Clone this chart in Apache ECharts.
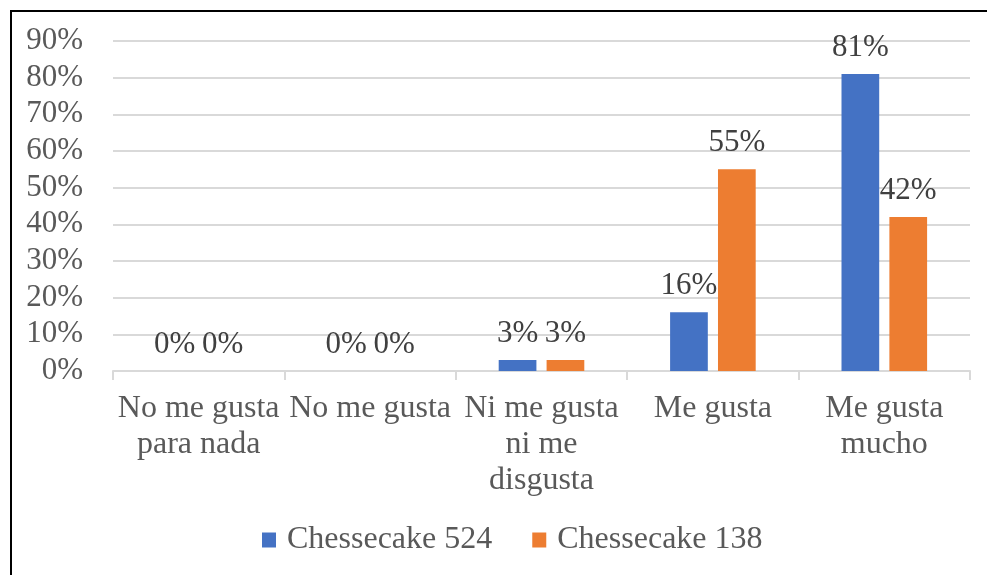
<!DOCTYPE html>
<html><head><meta charset="utf-8">
<script src="https://cdn.jsdelivr.net/npm/echarts@6/dist/echarts.min.js"></script>
<style>html,body{margin:0;padding:0;background:#fff}#c{width:987px;height:575px}</style>
</head><body><div id="c"></div>
<script>
const categories = ["No me gusta\npara nada", "No me gusta", "Ni me gusta\nni me\ndisgusta", "Me gusta", "Me gusta\nmucho"];
const seriesNames = ["Chessecake 524", "Chessecake 138"];
const values524 = [0, 0, 3, 16, 81];
const values138 = [0, 0, 3, 55, 42];
const yTicks = [0, 10, 20, 30, 40, 50, 60, 70, 80, 90];

const font = "Liberation Serif";
const txt = "#595959";
const chart = echarts.init(document.getElementById('c'));
const lbl = {show: true, position: 'top', distance: 11, formatter: p => p.value + '%', color: '#404040', fontFamily: font, fontSize: 31};
chart.setOption({
  animation: false,
  graphic: [{type: 'rect', shape: {x: 11, y: 11, width: 1000, height: 600}, style: {fill: 'none', stroke: '#000', lineWidth: 2}}],
  grid: {left: 113, right: 17, top: 41, bottom: 204},
  legend: {bottom: 14, left: 257, itemWidth: 14, itemHeight: 15, itemGap: 40, icon: 'rect',
    textStyle: {color: txt, fontFamily: font, fontSize: 32, padding: [0,0,0,6]}, data: seriesNames},
  xAxis: {type: 'category', data: categories,
    axisLine: {lineStyle: {color: '#d9d9d9', width: 2}},
    axisTick: {show: true, length: 9, lineStyle: {color: '#d9d9d9', width: 2}},
    axisLabel: {interval: 0, margin: 20, color: txt, fontFamily: font, fontSize: 32, lineHeight: 36}},
  yAxis: {type: 'value', min: yTicks[0], max: yTicks[yTicks.length-1], interval: 10,
    axisLine: {show: false}, axisTick: {show: false},
    splitLine: {lineStyle: {color: '#d9d9d9', width: 2}},
    axisLabel: {margin: 30, formatter: v => v + '%', color: txt, fontFamily: font, fontSize: 31}},
  series: [
    {name: seriesNames[0], type: 'bar', data: values524, barWidth: '22%', barGap: '27%', itemStyle: {color: '#4472C4'}, label: lbl},
    {name: seriesNames[1], type: 'bar', data: values138, barWidth: '22%', itemStyle: {color: '#ED7D31'}, label: lbl}
  ]
});
</script></body></html>
